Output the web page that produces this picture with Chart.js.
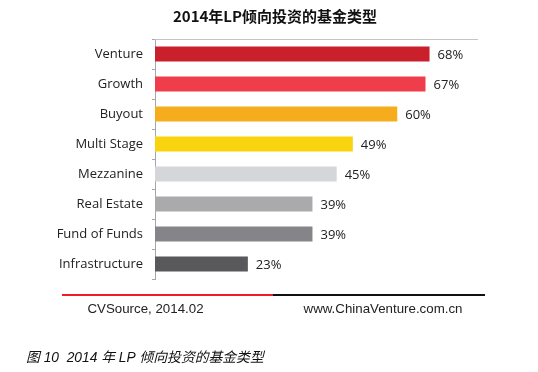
<!DOCTYPE html>
<html>
<head>
<meta charset="utf-8">
<script src="https://cdn.jsdelivr.net/npm/chart.js@4"></script>
<style>
  html, body { margin: 0; padding: 0; background: #fff; }
  #wrap { position: relative; width: 538px; height: 372px; }
</style>
</head>
<body>
<div id="wrap"><canvas id="lpChart" width="538" height="372"></canvas></div>
<script>
// Chart data
const title = '2014年LP倾向投资的基金类型';
const categories = ['Venture', 'Growth', 'Buyout', 'Multi Stage', 'Mezzanine', 'Real Estate', 'Fund of Funds', 'Infrastructure'];
const shares = [68, 67, 60, 49, 45, 39, 39, 23];
const barColors = ['#c9202c', '#ef3d4b', '#f6ad1d', '#f9d30d', '#d4d6d9', '#aaaaad', '#858589', '#59595b'];
const sourceText = 'CVSource, 2014.02';
const siteText = 'www.ChinaVenture.com.cn';
const caption = '图 10  2014 年 LP 倾向投资的基金类型';

const labelFont = '13px "Open Sans", "Noto Sans", sans-serif';

// Title, top rule, value labels and footer
const decorations = {
    id: 'decorations',
    afterDatasetsDraw(chart) {
        const c = chart.ctx;
        const area = chart.chartArea;
        c.save();

        // title
        c.fillStyle = '#111';
        c.font = 'bold 15px "Noto Sans CJK SC", sans-serif';
        c.textAlign = 'center';
        c.textBaseline = 'middle';
        c.fillText(title, 275, 16);

        // top rule of plot area
        c.strokeStyle = '#c4c4c4';
        c.lineWidth = 1;
        c.beginPath();
        c.moveTo(area.left, area.top + 0.5);
        c.lineTo(area.right, area.top + 0.5);
        c.stroke();

        // value labels
        c.font = labelFont;
        c.fillStyle = '#222';
        c.textAlign = 'left';
        chart.getDatasetMeta(0).data.forEach((bar, i) => {
            c.fillText(shares[i] + '%', bar.x + 8, bar.y + 1);
        });

        // footer rules
        c.lineWidth = 2;
        c.strokeStyle = '#ee1c25';
        c.beginPath();
        c.moveTo(62, 295);
        c.lineTo(273, 295);
        c.stroke();
        c.strokeStyle = '#111';
        c.beginPath();
        c.moveTo(273, 295);
        c.lineTo(485, 295);
        c.stroke();

        // footer texts
        c.font = '13.3px "Liberation Sans", Arial, sans-serif';
        c.fillStyle = '#222';
        c.textAlign = 'center';
        c.fillText(sourceText, 145.5, 309);
        c.fillText(siteText, 383, 309);

        // caption
        c.font = 'italic 13.8px "Liberation Sans", "Noto Sans CJK SC", sans-serif';
        c.fillStyle = '#111';
        c.textAlign = 'left';
        c.fillText(caption, 26, 358);

        c.restore();
    }
};

const ctx = document.getElementById('lpChart').getContext('2d');
new Chart(ctx, {
    type: 'bar',
    data: {
        labels: categories,
        datasets: [{
            data: shares,
            backgroundColor: barColors,
            borderWidth: 0,
            barPercentage: 0.5,
            categoryPercentage: 1.0
        }]
    },
    options: {
        indexAxis: 'y',
        responsive: false,
        animation: false,
        events: [],
        layout: {
            padding: { left: 0, top: 39, right: 60, bottom: 93 }
        },
        plugins: {
            legend: { display: false },
            tooltip: { enabled: false }
        },
        scales: {
            x: {
                display: false,
                min: 0,
                max: 80
            },
            y: {
                afterFit(scale) {
                    scale.width = 155;
                },
                border: {
                    display: true,
                    color: '#a6a6a6'
                },
                grid: {
                    display: true,
                    offset: true,
                    drawOnChartArea: false,
                    drawTicks: true,
                    tickLength: 3,
                    color: '#a6a6a6'
                },
                ticks: {
                    color: '#222',
                    padding: 9,
                    font: { family: '"Open Sans", "Noto Sans", sans-serif', size: 13 }
                }
            }
        }
    },
    plugins: [decorations]
});
</script>
</body>
</html>
